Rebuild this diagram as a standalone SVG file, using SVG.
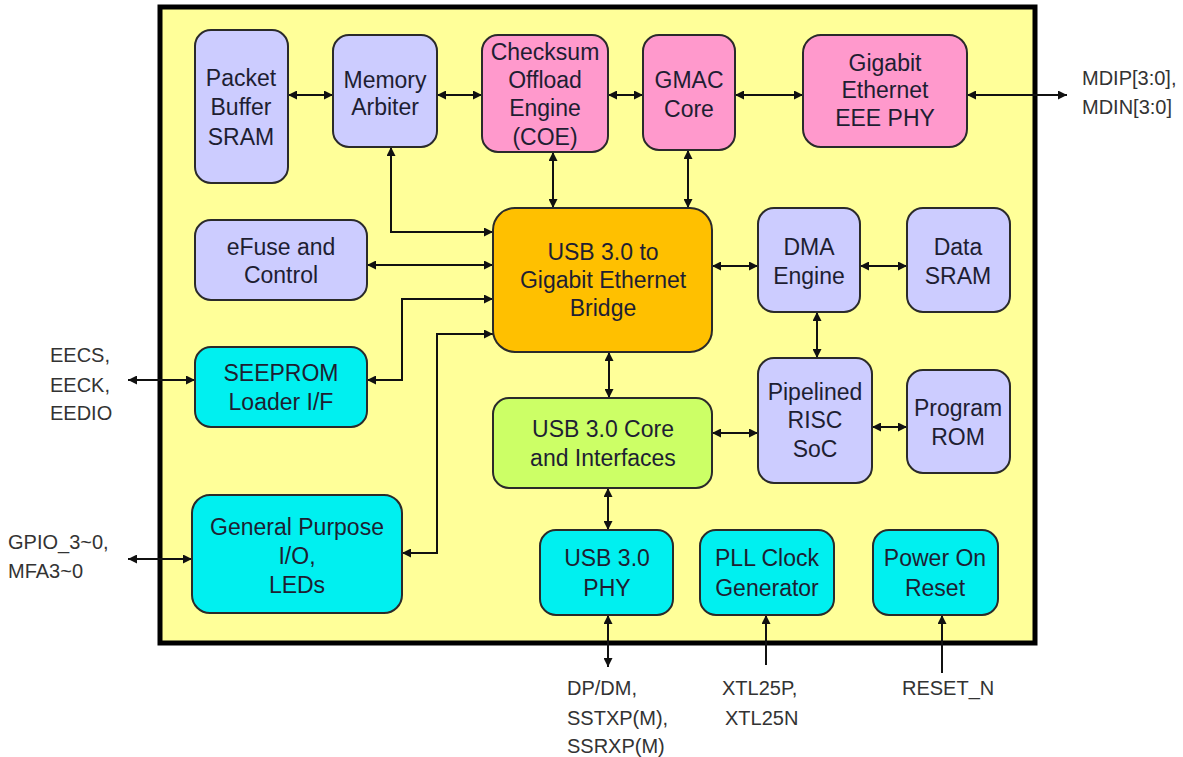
<svg xmlns="http://www.w3.org/2000/svg" width="1183" height="757" viewBox="0 0 1183 757">
<defs>
<style>
.box{stroke:#2a2a2a;stroke-width:2}
.lav{fill:#CCCCFF}
.pink{fill:#FF99CC}
.cyan{fill:#00F0F0}
.green{fill:#CCFF66}
.orange{fill:#FFC000}
.t{font-family:"Liberation Sans",Arial,sans-serif;font-size:23px;text-anchor:middle;fill:#1e1e32}
.ext{font-family:"Liberation Sans",Arial,sans-serif;font-size:20px;fill:#333333}
.c{fill:none;stroke:#111;stroke-width:2}
.bi{marker-start:url(#ah);marker-end:url(#ah)}
.uni{marker-end:url(#ah)}
</style>
<marker id="ah" viewBox="0 0 10 10" refX="10" refY="5" markerWidth="10" markerHeight="9" markerUnits="userSpaceOnUse" orient="auto-start-reverse">
<path d="M0,0 L10,5 L0,10 z" fill="#111"/>
</marker>
</defs>
<rect x="0" y="0" width="1183" height="757" fill="#ffffff"/>
<rect id="chip" x="160" y="7" width="875" height="636" fill="#FFFF99" stroke="#000" stroke-width="5"/>

<g id="connectors">
<path class="c bi" d="M288,95 H333"/>
<path class="c bi" d="M437,95 H482"/>
<path class="c bi" d="M608,95 H643"/>
<path class="c bi" d="M735,95 H803"/>
<path class="c bi" d="M967,95 H1067"/>
<path class="c bi" d="M391,147 V232 H493"/>
<path class="c bi" d="M553,152 V208"/>
<path class="c bi" d="M688,150 V208"/>
<path class="c bi" d="M367,265 H493"/>
<path class="c bi" d="M367,380 H402 V299 H493"/>
<path class="c bi" d="M402,553 H437 V334 H493"/>
<path class="c bi" d="M128,380 H195"/>
<path class="c bi" d="M128,559 H192"/>
<path class="c bi" d="M712,266 H758"/>
<path class="c bi" d="M860,266 H907"/>
<path class="c bi" d="M817,312 V358"/>
<path class="c bi" d="M609,352 V398"/>
<path class="c bi" d="M712,433 H758"/>
<path class="c bi" d="M872,427 H907"/>
<path class="c bi" d="M608,488 V530"/>
<path class="c bi" d="M608,615 V667"/>
<path class="c uni" d="M766,665 V615"/>
<path class="c uni" d="M942,673 V615"/>
</g>

<g id="packet-buffer">
<rect class="box lav" x="195" y="30" width="93" height="153" rx="16"/>
<text class="t" x="241" y="86">Packet</text>
<text class="t" x="241" y="115">Buffer</text>
<text class="t" x="241" y="145">SRAM</text>
</g>
<g id="memory-arbiter">
<rect class="box lav" x="333" y="35" width="104" height="112" rx="16"/>
<text class="t" x="385" y="88">Memory</text>
<text class="t" x="385" y="115">Arbiter</text>
</g>
<g id="coe">
<rect class="box pink" x="482" y="35" width="126" height="117" rx="16"/>
<text class="t" x="545" y="60">Checksum</text>
<text class="t" x="545" y="88">Offload</text>
<text class="t" x="545" y="116">Engine</text>
<text class="t" x="545" y="145">(COE)</text>
</g>
<g id="gmac">
<rect class="box pink" x="643" y="35" width="92" height="115" rx="16"/>
<text class="t" x="689" y="88">GMAC</text>
<text class="t" x="689" y="117">Core</text>
</g>
<g id="ge-phy">
<rect class="box pink" x="803" y="35" width="164" height="112" rx="18"/>
<text class="t" x="885" y="71">Gigabit</text>
<text class="t" x="885" y="98">Ethernet</text>
<text class="t" x="885" y="126">EEE PHY</text>
</g>
<g id="efuse">
<rect class="box lav" x="195" y="220" width="172" height="80" rx="16"/>
<text class="t" x="281" y="255">eFuse and</text>
<text class="t" x="281" y="283">Control</text>
</g>
<g id="seeprom">
<rect class="box cyan" x="195" y="347" width="172" height="80" rx="16"/>
<text class="t" x="281" y="381">SEEPROM</text>
<text class="t" x="281" y="410">Loader I/F</text>
</g>
<g id="bridge">
<rect class="box orange" x="493" y="208" width="219" height="144" rx="22"/>
<text class="t" x="603" y="260">USB 3.0 to</text>
<text class="t" x="603" y="288">Gigabit Ethernet</text>
<text class="t" x="603" y="316">Bridge</text>
</g>
<g id="dma">
<rect class="box lav" x="758" y="208" width="102" height="104" rx="16"/>
<text class="t" x="809" y="255">DMA</text>
<text class="t" x="809" y="284">Engine</text>
</g>
<g id="data-sram">
<rect class="box lav" x="907" y="208" width="103" height="104" rx="16"/>
<text class="t" x="958" y="255">Data</text>
<text class="t" x="958" y="284">SRAM</text>
</g>
<g id="risc">
<rect class="box lav" x="758" y="358" width="114" height="125" rx="16"/>
<text class="t" x="815" y="400">Pipelined</text>
<text class="t" x="815" y="428">RISC</text>
<text class="t" x="815" y="457">SoC</text>
</g>
<g id="program-rom">
<rect class="box lav" x="907" y="370" width="103" height="103" rx="16"/>
<text class="t" x="958" y="416">Program</text>
<text class="t" x="958" y="445">ROM</text>
</g>
<g id="usb-core">
<rect class="box green" x="493" y="398" width="219" height="90" rx="16"/>
<text class="t" x="603" y="437">USB 3.0 Core</text>
<text class="t" x="603" y="466">and Interfaces</text>
</g>
<g id="gpio">
<rect class="box cyan" x="192" y="495" width="210" height="118" rx="18"/>
<text class="t" x="297" y="535">General Purpose</text>
<text class="t" x="297" y="564">I/O,</text>
<text class="t" x="297" y="593">LEDs</text>
</g>
<g id="usb-phy">
<rect class="box cyan" x="540" y="530" width="133" height="85" rx="16"/>
<text class="t" x="607" y="566">USB 3.0</text>
<text class="t" x="607" y="596">PHY</text>
</g>
<g id="pll">
<rect class="box cyan" x="700" y="530" width="134" height="85" rx="16"/>
<text class="t" x="767" y="566">PLL Clock</text>
<text class="t" x="767" y="596">Generator</text>
</g>
<g id="por">
<rect class="box cyan" x="873" y="530" width="125" height="85" rx="16"/>
<text class="t" x="935" y="566">Power On</text>
<text class="t" x="935" y="596">Reset</text>
</g>

<g id="external-labels">
<text class="ext" x="1082" y="85">MDIP[3:0],</text>
<text class="ext" x="1082" y="114">MDIN[3:0]</text>
<text class="ext" x="50" y="362">EECS,</text>
<text class="ext" x="50" y="392">EECK,</text>
<text class="ext" x="50" y="420">EEDIO</text>
<text class="ext" x="8" y="549">GPIO_3~0,</text>
<text class="ext" x="8" y="578">MFA3~0</text>
<text class="ext" x="567" y="695">DP/DM,</text>
<text class="ext" x="567" y="725">SSTXP(M),</text>
<text class="ext" x="567" y="753">SSRXP(M)</text>
<text class="ext" x="722" y="695">XTL25P,</text>
<text class="ext" x="725" y="725">XTL25N</text>
<text class="ext" x="902" y="695">RESET_N</text>
</g>
</svg>
